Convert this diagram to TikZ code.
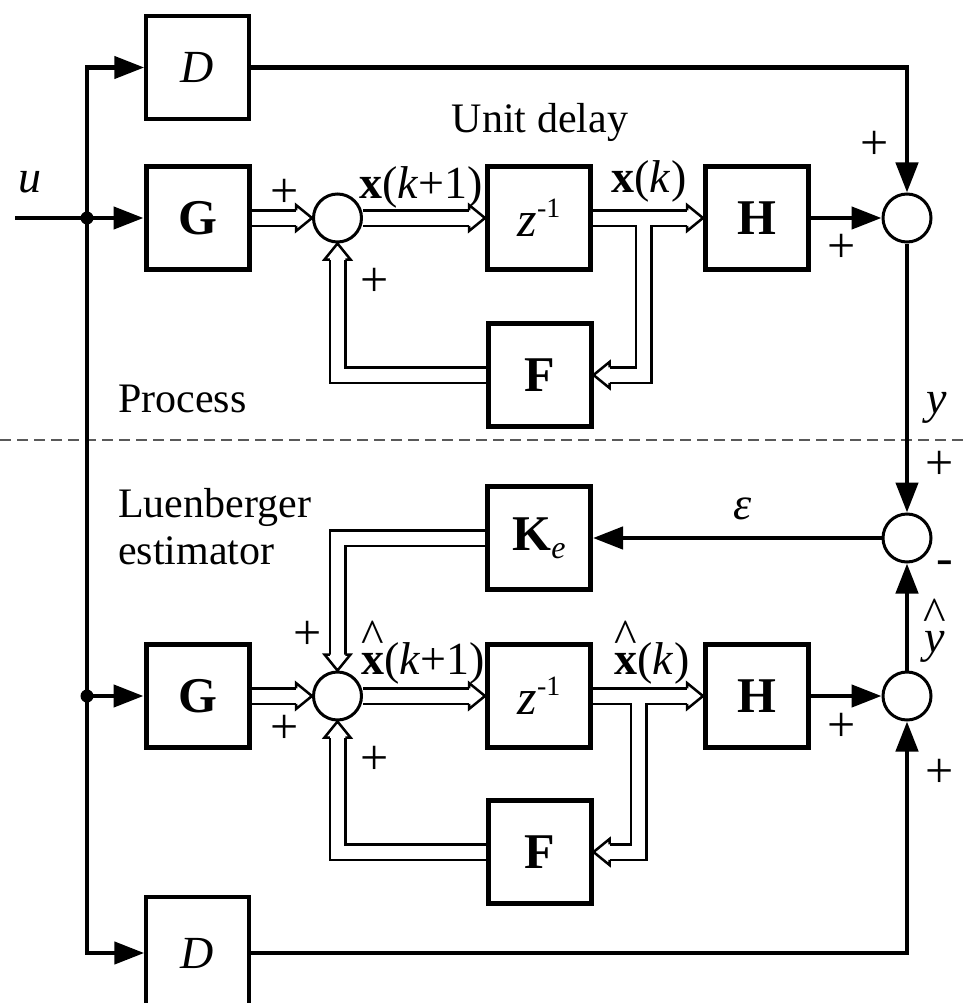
\documentclass[tikz,border=0pt]{standalone}
\usepackage{fontspec}
\setmainfont{Liberation Serif}
\usetikzlibrary{arrows.meta,calc}
\newsavebox\hatbx
\newcommand\hatover[1]{\sbox\hatbx{#1}\rlap{\makebox[\wd\hatbx]{\raisebox{22pt}{\fontsize{48}{48}\selectfont\textasciicircum}}}\usebox\hatbx}
\begin{document}
\begin{tikzpicture}[x=1pt,y=-1pt,line join=miter,
  txt/.style={font=\fontsize{42}{50}\selectfont, inner sep=0pt},
  mth/.style={font=\fontsize{46}{50}\selectfont, inner sep=0pt},
  pm/.style={font=\fontsize{50}{50}\selectfont, inner sep=0pt},
  blk/.style={draw, line width=5pt, minimum width=103pt, minimum height=103pt, inner sep=0pt, font=\fontsize{50}{50}\selectfont\bfseries},
  dbox/.style={draw, line width=3.5pt, minimum width=103pt, minimum height=103pt, inner sep=0pt, font=\fontsize{46}{50}\selectfont\itshape},
  sum/.style={draw, circle, line width=3pt, minimum size=48pt, inner sep=0pt},
  sig/.style={line width=4.5pt, -{Triangle[length=30pt,width=22pt]}},
  pipe/.style={preaction={draw=black, line width=18pt}, draw=white, line width=13pt},
  dhead/.pic={\filldraw[fill=white, draw=black, line width=2.5pt] (-16,7.75) -- (-16,13) -- (0,0) -- (-16,-13) -- (-16,-7.75);},
  dot/.style={circle, fill, inner sep=0pt, minimum size=13pt}]
\useasboundingbox (0,0) rectangle (965,1003);
\fill[white] (0,0) rectangle (965,1003);
% separator
\draw[gray!70!black, line width=1.3pt, dash pattern=on 11pt off 6pt] (0,440) -- (965,440);

% ---------- process ----------
\node[dbox] (D1) at (197.5,67.5) {D};
\node[blk] (G1) at (197.5,218) {G};
\node[sum] (s1) at (337.5,218) {};
\node[blk] (z1) at (539,218) {\mdseries\itshape z\raisebox{19pt}{\upshape\fontsize{28}{28}\selectfont -1}};
\node[blk] (H1) at (757,218) {H};
\node[sum] (s2) at (907,218) {};
\node[blk] (F1) at (539.5,375) {F};

% ---------- estimator ----------
\node[sum] (s3) at (907,538) {};
\node[blk] (Ke) at (539,538) {K\raisebox{-8pt}{\mdseries\itshape\fontsize{32}{32}\selectfont e}};
\node[blk] (G2) at (197.5,696) {G};
\node[sum] (s4) at (337.5,696) {};
\node[blk] (z2) at (539,696) {\mdseries\itshape z\raisebox{19pt}{\upshape\fontsize{28}{28}\selectfont -1}};
\node[blk] (H2) at (757,696) {H};
\node[sum] (s5) at (907,696) {};
\node[blk] (F2) at (539.5,852) {F};
\node[dbox, minimum height=112pt] (D2) at (197.5,953) {D};

% ---------- single signal lines ----------
\coordinate (uin) at (15,218);
\coordinate (j1) at (87,218);
\coordinate (j2) at (87,696);
\draw[sig] (uin) -- (G1.west);
\draw[sig] (j1) |- (D1.west);
\draw[sig] (j1) |- (D2.west);
\draw[sig] (j2) -- (G2.west);
\node[dot] (dot1) at (j1) {};
\node[dot] (dot2) at (j2) {};
\draw[sig] (D1.east) -| (s2.north);
\draw[sig] (H1.east) -- (s2.west);
\draw[sig] (s2.south) -- (s3.north);
\draw[sig] (s3.west) -- (Ke.east);
\draw[sig] (H2.east) -- (s5.west);
\draw[sig] (s5.north) -- (s3.south);
\draw[sig] (D2.east) -| (s5.south);

% ---------- vector (double) lines ----------
\coordinate (br1) at (643.5,218);
\coordinate (br2) at (638.5,696);
\draw[pipe] (G1.east) -- ($(s1.west)+(-16,0)$);
\pic at (s1.west) {dhead};
\draw[pipe] (s1.east) -- ($(z1.west)+(-16,0)$);
\pic at (z1.west) {dhead};
\draw[pipe] (z1.east) -- ($(H1.west)+(-16,0)$) (br1) |- ($(F1.east)+(16,0)$);
\pic at (H1.west) {dhead};
\pic[rotate=180] at (F1.east) {dhead};
\draw[pipe] (F1.west) -| ($(s1.south)+(0,16)$);
\pic[rotate=90] at (s1.south) {dhead};

\draw[pipe] (G2.east) -- ($(s4.west)+(-16,0)$);
\pic at (s4.west) {dhead};
\draw[pipe] (s4.east) -- ($(z2.west)+(-16,0)$);
\pic at (z2.west) {dhead};
\draw[pipe] (z2.east) -- ($(H2.west)+(-16,0)$) (br2) |- ($(F2.east)+(16,0)$);
\pic at (H2.west) {dhead};
\pic[rotate=180] at (F2.east) {dhead};
\draw[pipe] (F2.west) -| ($(s4.south)+(0,16)$);
\pic[rotate=90] at (s4.south) {dhead};
\draw[pipe] (Ke.west) -| ($(s4.north)+(0,-16)$);
\pic[rotate=-90] at (s4.north) {dhead};

% ---------- labels ----------
\node[mth, anchor=base] (lu) at (30,193) {\itshape u};
\node[txt, anchor=base] (lud) at (540,133) {Unit delay};
\node[mth, anchor=base] (lx1) at (421,198) {\textbf{x}(\textit{k}+1)};
\node[mth, anchor=base] (lx0) at (649,193) {\textbf{x}(\textit{k})};
\node[pm] (p1) at (285,193) {+};
\node[pm] (p2) at (375,282) {+};
\node[pm] (p3) at (875,145) {+};
\node[pm] (p4) at (842,248) {+};
\node[txt, anchor=base west] (lproc) at (118,412) {Process};
\node[mth, anchor=base] (ly) at (937,413) {\itshape y};

\node[pm] (p5) at (940,465) {+};
\node[pm] (m1) at (945,568) {-};
\node[mth, anchor=base] (leps) at (743,519) {\itshape ε};
\node[mth, anchor=base] (lyh) at (935,652) {\hatover{\itshape y}};
\node[txt, anchor=base west] (llu) at (118,517) {Luenberger};
\node[txt, anchor=base west] (lest) at (118,564) {estimator};
\node[mth, anchor=base] (lxh1) at (423,674) {\hatover{\textbf{x}}(\textit{k}+1)};
\node[mth, anchor=base] (lxh0) at (652,674) {\hatover{\textbf{x}}(\textit{k})};
\node[pm] (p6) at (308,635) {+};
\node[pm] (p7) at (285,729) {+};
\node[pm] (p8) at (375,760) {+};
\node[pm] (p9) at (842,727) {+};
\node[pm] (p10) at (940,773) {+};
\end{tikzpicture}
\end{document}
